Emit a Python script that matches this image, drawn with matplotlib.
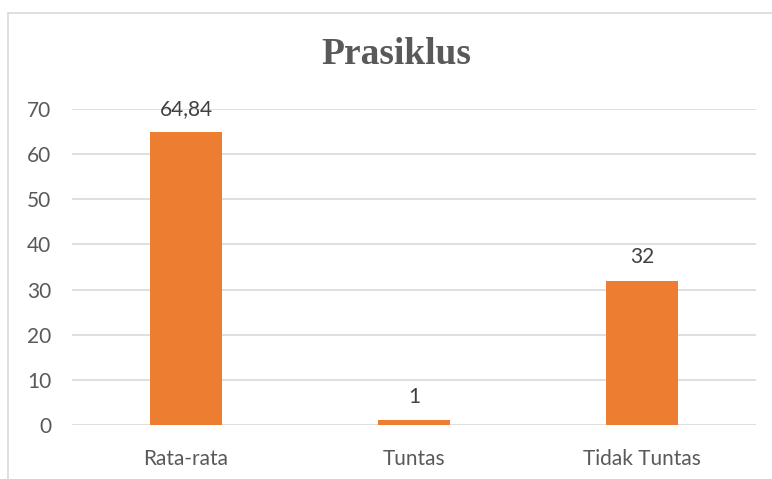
import matplotlib
matplotlib.use("Agg")
import matplotlib.pyplot as plt
from matplotlib.patches import Rectangle

categories = ["Rata-rata", "Tuntas", "Tidak Tuntas"]
values = [64.84, 1, 32]
value_labels = ["64,84", "1", "32"]
yticks = [0, 10, 20, 30, 40, 50, 60, 70]

W, H = 772, 479
fig = plt.figure(figsize=(W / 100, H / 100), dpi=100)
fig.patch.set_facecolor("white")

# outer frame (cut off on right/bottom)
fig.add_artist(Rectangle((8 / W, -0.05), 1.1, 1 - 13 / H + 0.05, transform=fig.transFigure,
                         fill=False, edgecolor="#D9D9D9", linewidth=1.2))

left, right = 72 / W, 756 / W
bottom, top = 1 - 425 / H, 1 - 109 / H
ax = fig.add_axes([left, bottom, right - left, top - bottom])
ax.set_xlim(-0.5, 2.5)
ax.set_ylim(0, 70)

ax.bar(range(3), values, width=72 / 228, color="#ED7D31", zorder=3)
for i, (v, lab) in enumerate(zip(values, value_labels)):
    ax.annotate(lab, (i, v), xytext=(0, 17), textcoords="offset points",
                ha="center", va="center", fontsize=15, color="#404040", family="Lato")

ax.set_yticks(yticks)
ax.set_yticklabels([str(t) for t in yticks], fontsize=15, color="#595959", family="Lato")
ax.set_xticks(range(3))
ax.set_xticklabels(categories, fontsize=15, color="#595959", family="Lato")
ax.tick_params(axis="both", length=0)
ax.tick_params(axis="y", pad=15)
ax.tick_params(axis="x", pad=17)
ax.grid(axis="y", color="#D9D9D9", linewidth=1.2, zorder=0)
for s in ax.spines.values():
    s.set_visible(False)

fig.text(396 / W, 1 - 55 / H, "Prasiklus", ha="center", va="center",
         fontsize=27, fontweight="bold", color="#595959", family="Liberation Serif")

fig.savefig("out.png", dpi=100)
